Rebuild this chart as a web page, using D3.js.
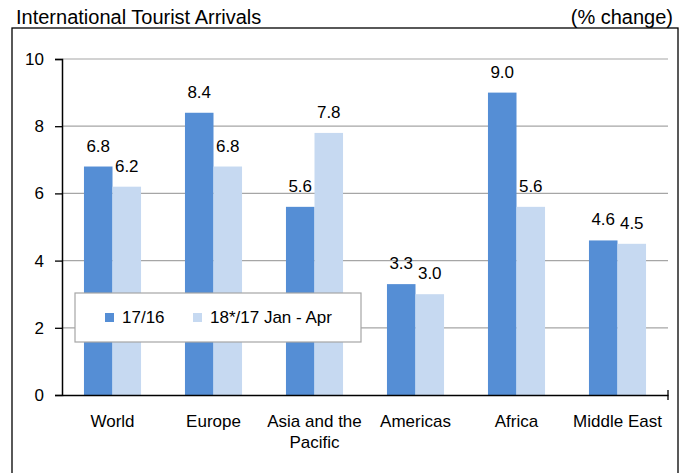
<!DOCTYPE html>
<html>
<head>
<meta charset="utf-8">
<script src="https://cdn.jsdelivr.net/npm/d3@7"></script>
<style>
  body { margin: 0; background: #fff; }
  text { font-family: "Liberation Sans", Arial, sans-serif; fill: #000; }
</style>
</head>
<body>
<script>
// Data
var categories = ["World", "Europe", "Asia and the Pacific", "Americas", "Africa", "Middle East"];
var seriesNames = ["17/16", "18*/17 Jan - Apr"];
var full2017 = [6.8, 8.4, 5.6, 3.3, 9.0, 4.6];
var early2018 = [6.2, 6.8, 7.8, 3.0, 5.6, 4.5];
var yTicks = [0, 2, 4, 6, 8, 10];

var colors = ["#558ed5", "#c6d9f1"];

var width = 688, height = 473;
var margin = {top: 59, right: 20, bottom: 78, left: 62};
var plotW = 668 - margin.left, plotH = 395 - margin.top;

var svg = d3.select("body").append("svg")
  .attr("width", width)
  .attr("height", height);

// title + unit
svg.append("text")
  .attr("x", 16).attr("y", 24)
  .style("font-size", "20px")
  .text("International Tourist Arrivals");
svg.append("text")
  .attr("x", 673).attr("y", 24)
  .attr("text-anchor", "end")
  .style("font-size", "20px")
  .text("(% change)");

// outer frame
svg.append("rect")
  .attr("x", 12).attr("y", 28)
  .attr("width", 666).attr("height", 460)
  .attr("fill", "none")
  .attr("stroke", "#000")
  .attr("stroke-width", 1.3);

var g = svg.append("g")
  .attr("transform", "translate(" + margin.left + "," + margin.top + ")");

var x = d3.scaleBand()
  .domain(categories)
  .range([0, plotW]);

var x1 = d3.scaleBand()
  .domain(seriesNames)
  .range([0, x.bandwidth()])
  .paddingInner(0)
  .paddingOuter(0.77);

var y = d3.scaleLinear()
  .domain([0, 10])
  .range([plotH, 0]);

// gridlines
g.selectAll(".grid")
  .data(yTicks.filter(function(d) { return d > 0; }))
  .enter().append("line")
  .attr("x1", 0).attr("x2", plotW)
  .attr("y1", function(d) { return y(d); })
  .attr("y2", function(d) { return y(d); })
  .attr("stroke", "#a6a6a6")
  .attr("stroke-width", 1.2);

// bars
var rows = categories.map(function(c, i) {
  return {cat: c, vals: [
    {name: seriesNames[0], v: full2017[i], k: 0},
    {name: seriesNames[1], v: early2018[i], k: 1}
  ]};
});

var grp = g.selectAll(".grp")
  .data(rows)
  .enter().append("g")
  .attr("transform", function(d) { return "translate(" + x(d.cat) + ",0)"; });

grp.selectAll("rect")
  .data(function(d) { return d.vals; })
  .enter().append("rect")
  .attr("x", function(d) { return x1(d.name); })
  .attr("y", function(d) { return y(d.v); })
  .attr("width", x1.bandwidth())
  .attr("height", function(d) { return plotH - y(d.v); })
  .attr("fill", function(d) { return colors[d.k]; });

grp.selectAll(".val")
  .data(function(d) { return d.vals; })
  .enter().append("text")
  .attr("class", "val")
  .attr("x", function(d) { return x1(d.name) + x1.bandwidth() / 2; })
  .attr("y", function(d) { return y(d.v) - 15; })
  .attr("text-anchor", "middle")
  .style("font-size", "17px")
  .text(function(d) { return d.v.toFixed(1); });

// y axis
var yAxis = g.append("g")
  .call(d3.axisLeft(y).tickValues(yTicks).tickSize(7).tickPadding(11));
yAxis.select(".domain").attr("stroke", "#000").attr("stroke-width", 1.5);
yAxis.selectAll(".tick line").attr("stroke", "#000").attr("stroke-width", 1.3);
yAxis.selectAll("text")
  .style("font-size", "17px")
  .style("font-family", "Liberation Sans, Arial, sans-serif")
  .attr("fill", "#000");

// x axis
var xAxis = g.append("g")
  .attr("transform", "translate(0," + plotH + ")")
  .call(d3.axisBottom(x).tickSize(0).tickPadding(14));
xAxis.select(".domain").attr("stroke", "#000").attr("stroke-width", 1.5);
xAxis.selectAll("text").remove();
g.append("line")
  .attr("x1", plotW).attr("x2", plotW)
  .attr("y1", plotH - 5).attr("y2", plotH + 5)
  .attr("stroke", "#000").attr("stroke-width", 1.3);

var labelLines = {"Asia and the Pacific": ["Asia and the", "Pacific"]};
categories.forEach(function(c) {
  var lines = labelLines[c] || [c];
  var t = g.append("text")
    .attr("text-anchor", "middle")
    .style("font-size", "17px")
    .attr("transform", "translate(" + (x(c) + x.bandwidth() / 2) + "," + (plotH + 32) + ")");
  lines.forEach(function(l, i) {
    t.append("tspan").attr("x", 0).attr("dy", i === 0 ? 0 : 21).text(l);
  });
});

// legend
var legend = svg.append("g").attr("transform", "translate(75,293)");
legend.append("rect")
  .attr("width", 286).attr("height", 49)
  .attr("fill", "#fff")
  .attr("stroke", "#a6a6a6")
  .attr("stroke-width", 1.2);

var legX = [30, 118];
seriesNames.forEach(function(s, i) {
  legend.append("rect")
    .attr("x", legX[i]).attr("y", 20)
    .attr("width", 9).attr("height", 9)
    .attr("fill", colors[i]);
  legend.append("text")
    .attr("x", legX[i] + 17).attr("y", 30)
    .style("font-size", "17px")
    .text(s);
});
</script>
</body>
</html>
